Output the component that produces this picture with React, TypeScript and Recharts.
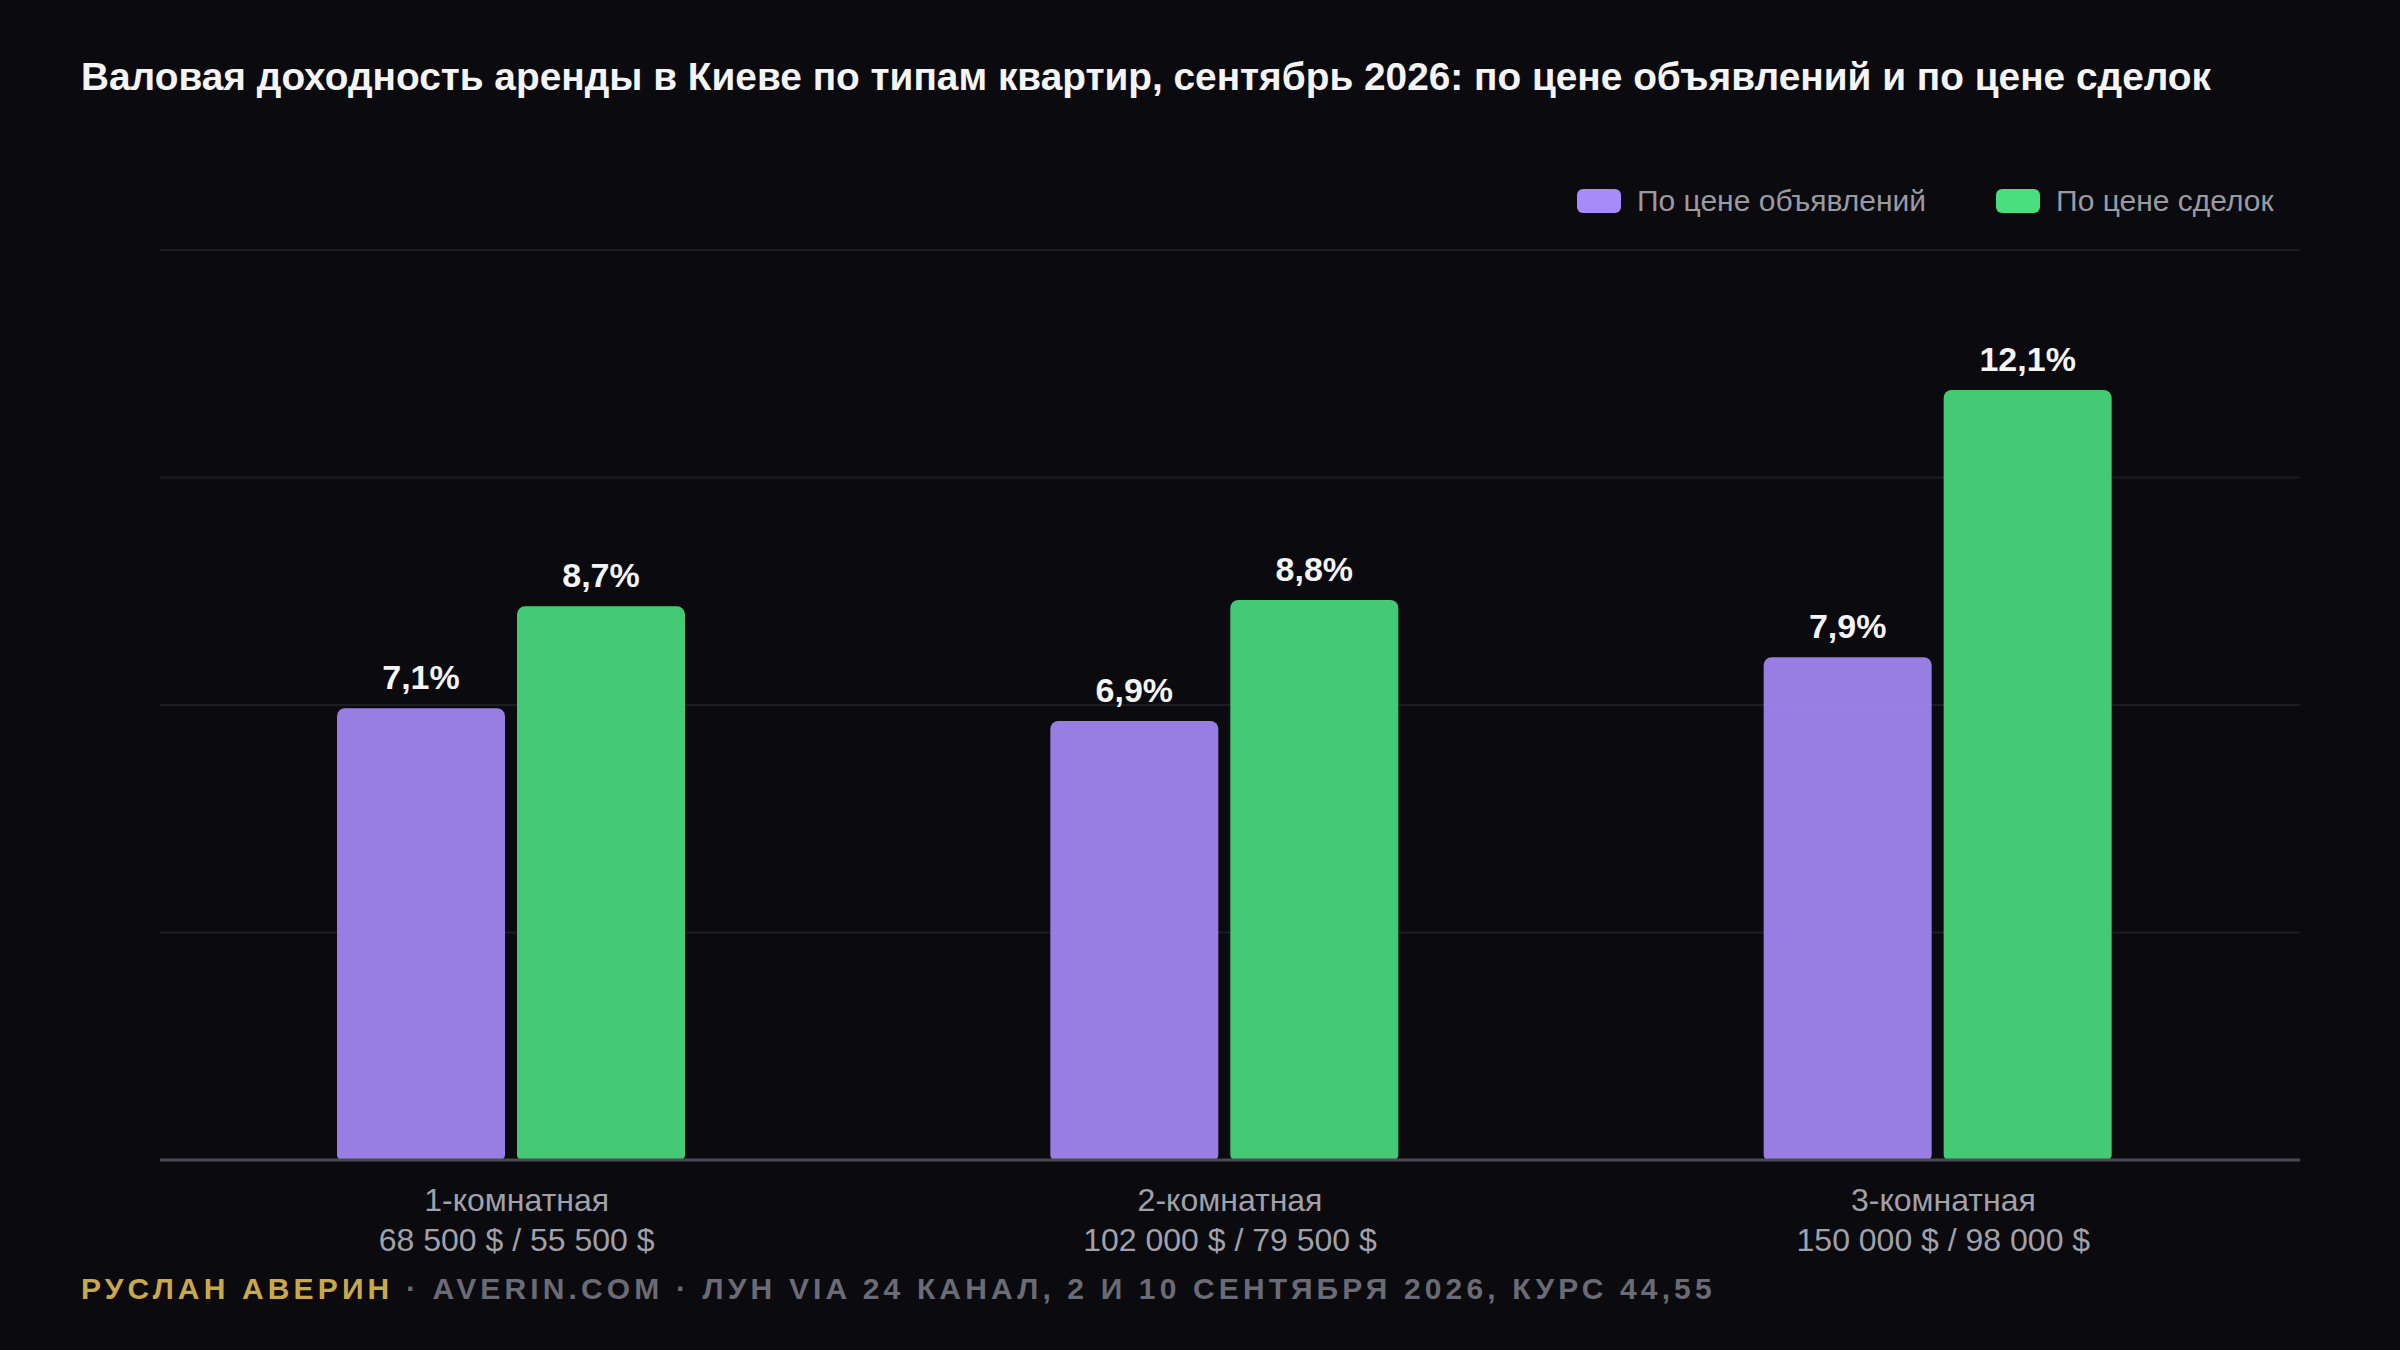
import { BarChart, Bar, XAxis, YAxis, CartesianGrid, LabelList } from "recharts";

const categories = ["1-комнатная", "2-комнатная", "3-комнатная"];
const prices = ["68 500 $ / 55 500 $", "102 000 $ / 79 500 $", "150 000 $ / 98 000 $"];
const listingYield = [7.1, 6.9, 7.9];
const dealYield = [8.7, 8.8, 12.1];
const yMax = 14.3;

const seriesNames = { listing: "По цене объявлений", deal: "По цене сделок" };
const colors = { listing: "#a78bfa", deal: "#4ade80" };

const data = categories.map((c, i) => ({
  name: c,
  price: prices[i],
  listing: listingYield[i],
  deal: dealYield[i],
}));

const FONT = "'Liberation Sans', Arial, Helvetica, sans-serif";
const SHIFT = 6; // bars sit a little left of the band centre in the original

const fmt = (v: number) => v.toFixed(1).replace(".", ",") + "%";

function CategoryTick(props: any) {
  const { x, y, payload, index } = props;
  return (
    <g transform={`translate(${x + SHIFT},${y})`}>
      <text x={0} y={43} textAnchor="middle" fill="#a1a1aa" fontSize={32} fontFamily={FONT}>
        {payload.value}
      </text>
      <text x={0} y={83} textAnchor="middle" fill="#a1a1aa" fontSize={32} fontFamily={FONT}>
        {prices[index]}
      </text>
    </g>
  );
}

function ChartLegend() {
  const items = [
    { key: "listing", label: seriesNames.listing, color: colors.listing },
    { key: "deal", label: seriesNames.deal, color: colors.deal },
  ];
  return (
    <div style={{ position: "absolute", left: 1577, top: 184, display: "flex", alignItems: "center", gap: 70 }}>
      {items.map((it) => (
        <div key={it.key} style={{ display: "flex", alignItems: "center", gap: 16 }}>
          <span style={{ width: 44, height: 24, borderRadius: 6, background: it.color, display: "inline-block" }} />
          <span style={{ color: "#9a9aa3", fontSize: 30, fontFamily: FONT }}>{it.label}</span>
        </div>
      ))}
    </div>
  );
}

export default function App() {
  const ticks = [0, 1, 2, 3, 4].map((i) => (yMax * i) / 4);
  return (
    <div
      style={{
        position: "absolute",
        left: 0,
        top: 0,
        width: 2400,
        height: 1350,
        background: "#0a0a0f",
        fontFamily: FONT,
        overflow: "hidden",
      }}
    >
      <div
        style={{
          position: "absolute",
          left: 81,
          top: 55,
          color: "#f4f4f5",
          fontSize: 38.8,
          fontWeight: 700,
          whiteSpace: "nowrap",
        }}
      >
        Валовая доходность аренды в Киеве по типам квартир, сентябрь 2026: по цене объявлений и по цене сделок
      </div>

      <ChartLegend />

      <div style={{ position: "absolute", left: 0, top: 0 }}>
        <BarChart
          width={2400}
          height={1350}
          data={data}
          margin={{ top: 250, right: 100, bottom: 160, left: 160 }}
          barGap={12}
          barSize={168}
        >
          <CartesianGrid vertical={false} stroke="#1c1c22" strokeWidth={2} />
          <YAxis hide domain={[0, yMax]} ticks={ticks} />
          <XAxis
            dataKey="name"
            axisLine={{ stroke: "#4a4a52", strokeWidth: 3 }}
            tickLine={false}
            tick={<CategoryTick />}
            interval={0}
            padding={{ left: -SHIFT, right: SHIFT }}
          />
          <Bar
            dataKey="listing"
            name={seriesNames.listing}
            fill={colors.listing}
            fillOpacity={0.9}
            radius={[8, 8, 5, 5]}
            isAnimationActive={false}
          >
            <LabelList
              dataKey="listing"
              position="top"
              offset={19}
              formatter={(v: any) => fmt(Number(v))}
              fill="#f4f4f5"
              fontSize={34}
              fontWeight={700}
              fontFamily={FONT}
            />
          </Bar>
          <Bar
            dataKey="deal"
            name={seriesNames.deal}
            fill={colors.deal}
            fillOpacity={0.9}
            radius={[8, 8, 5, 5]}
            isAnimationActive={false}
          >
            <LabelList
              dataKey="deal"
              position="top"
              offset={19}
              formatter={(v: any) => fmt(Number(v))}
              fill="#f4f4f5"
              fontSize={34}
              fontWeight={700}
              fontFamily={FONT}
            />
          </Bar>
        </BarChart>
      </div>

      <div
        style={{
          position: "absolute",
          left: 81,
          top: 1272,
          fontSize: 30,
          fontWeight: 700,
          letterSpacing: 4.15,
          whiteSpace: "nowrap",
          color: "#6b6b75",
        }}
      >
        <span style={{ color: "#c9a84c" }}>РУСЛАН АВЕРИН</span> · AVERIN.COM · ЛУН VIA 24 КАНАЛ, 2 И 10 СЕНТЯБРЯ 2026, КУРС 44,55
      </div>
    </div>
  );
}
